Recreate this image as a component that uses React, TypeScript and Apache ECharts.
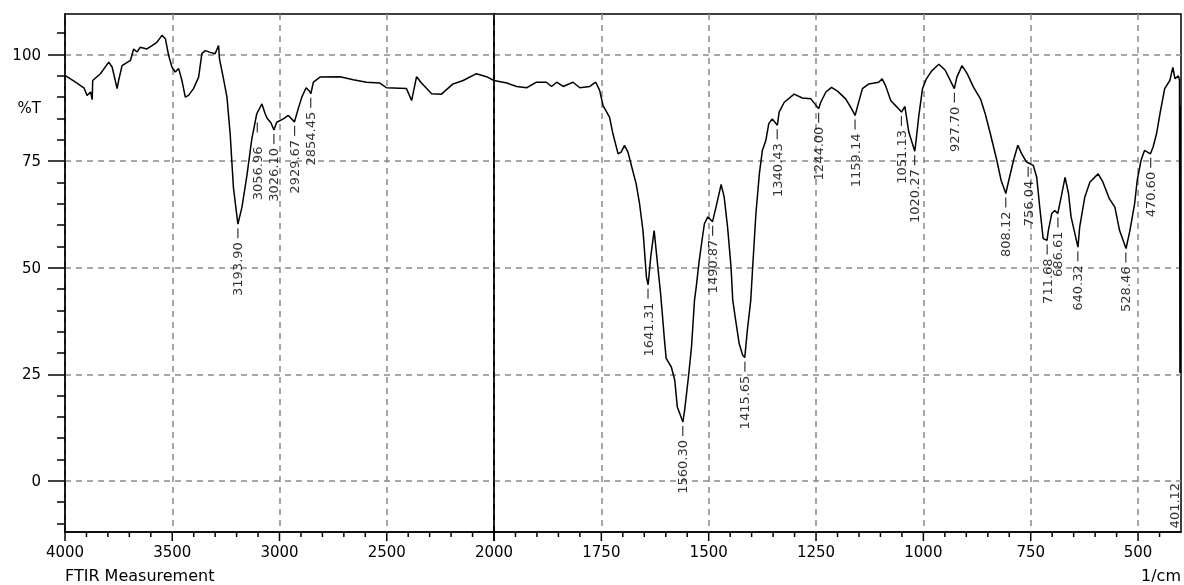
import React, { useEffect, useRef } from "react";
import * as echarts from "echarts";

// Spectrum 4000 -> 2000 1/cm  [wavenumber, %T]
const spectrumHigh: [number, number][] = [
  [4000, 95.1], [3951, 93.5], [3912, 92.2], [3897, 90.4], [3881, 91.2], [3873, 89.4], [3871, 93.9],
  [3835, 95.5], [3796, 98.2], [3780, 97.0], [3757, 92.0], [3750, 93.9], [3734, 97.4], [3695, 98.6],
  [3680, 101.3], [3664, 100.6], [3649, 101.7], [3618, 101.3], [3594, 102.1], [3571, 102.9], [3548, 104.5],
  [3532, 103.7], [3517, 99.8], [3501, 97.0], [3486, 95.9], [3470, 96.7], [3455, 93.9], [3439, 90.0],
  [3424, 90.4], [3401, 92.0], [3377, 94.7], [3362, 100.2], [3346, 100.9], [3323, 100.5], [3300, 100.2],
  [3284, 102.1], [3280, 99.0], [3261, 94.3], [3245, 90.0], [3230, 81.4], [3215, 68.9], [3194, 60.2],
  [3175, 64.2], [3152, 71.6], [3129, 80.2], [3106, 86.1], [3082, 88.4], [3067, 86.1], [3057, 85.0],
  [3040, 84.0], [3026, 82.3], [3013, 84.1], [2982, 84.9], [2959, 85.7], [2930, 84.2], [2915, 86.9],
  [2896, 90.0], [2876, 92.2], [2862, 91.5], [2854, 90.8], [2842, 93.5], [2811, 94.7], [2718, 94.8],
  [2656, 94.1], [2594, 93.5], [2532, 93.3], [2501, 92.2], [2408, 92.0], [2384, 89.2], [2361, 94.8],
  [2338, 93.3], [2291, 90.8], [2245, 90.7], [2191, 93.1], [2144, 93.9], [2082, 95.5], [2035, 94.8],
  [2000, 93.9],
];

// Spectrum 2000 -> 400 1/cm  [wavenumber, %T]
const spectrumLow: [number, number][] = [
  [2000, 93.9], [1970, 93.3], [1947, 92.5], [1924, 92.2], [1901, 93.5], [1878, 93.5], [1866, 92.5],
  [1854, 93.5], [1839, 92.5], [1816, 93.5], [1800, 92.2], [1777, 92.5], [1763, 93.5], [1754, 91.6],
  [1746, 88.0], [1731, 85.3], [1723, 81.4], [1711, 76.7], [1704, 77.1], [1696, 78.7], [1688, 77.1],
  [1677, 72.8], [1669, 69.7], [1661, 65.0], [1653, 58.7], [1645, 47.8], [1641, 46.0], [1635, 52.5],
  [1627, 58.7], [1620, 51.7], [1612, 43.9], [1608, 39.2], [1603, 33.0], [1599, 28.7], [1587, 26.7],
  [1579, 23.6], [1573, 17.3], [1560, 13.8], [1556, 16.6], [1548, 23.6], [1540, 31.4], [1533, 42.4],
  [1529, 45.5], [1522, 51.7], [1515, 56.8], [1510, 60.3], [1502, 61.9], [1491, 60.8], [1483, 64.2],
  [1471, 69.5], [1464, 66.6], [1456, 59.5], [1448, 50.2], [1444, 42.4], [1436, 36.9], [1429, 32.2],
  [1421, 29.5], [1416, 28.9], [1410, 35.3], [1402, 42.4], [1398, 49.4], [1390, 62.7], [1382, 72.0],
  [1375, 77.5], [1367, 79.8], [1360, 83.8], [1352, 84.9], [1340, 83.4], [1336, 86.5], [1324, 88.8],
  [1301, 90.7], [1282, 89.8], [1262, 89.6], [1244, 87.3], [1239, 88.8], [1227, 91.2], [1214, 92.3],
  [1200, 91.4], [1181, 89.6], [1169, 87.6], [1159, 85.7], [1154, 87.6], [1142, 92.0], [1127, 93.1],
  [1104, 93.5], [1096, 94.3], [1088, 92.7], [1076, 89.2], [1061, 87.6], [1051, 86.5], [1043, 87.8],
  [1034, 81.8], [1020, 77.3], [1017, 79.8], [1011, 85.3], [1002, 92.0], [993, 94.3], [981, 96.1],
  [964, 97.7], [949, 96.3], [928, 92.0], [922, 94.7], [910, 97.4], [898, 95.5], [883, 92.3],
  [867, 89.6], [856, 86.1], [844, 81.4], [829, 75.2], [819, 70.5], [808, 67.4], [802, 70.1],
  [790, 75.2], [780, 78.7], [771, 76.7], [760, 74.8], [756, 74.6], [744, 74.0], [736, 71.2],
  [729, 64.2], [721, 56.8], [712, 56.4], [709, 58.7], [701, 62.7], [694, 63.4], [687, 62.7],
  [679, 66.6], [670, 71.2], [662, 67.4], [656, 61.9], [640, 54.8], [636, 59.5], [624, 66.6],
  [612, 70.1], [593, 72.0], [582, 70.1], [567, 66.2], [554, 64.2], [543, 58.7], [528, 54.5],
  [519, 58.7], [508, 65.0], [502, 70.5], [493, 75.2], [485, 77.5], [471, 76.7], [465, 78.3],
  [457, 81.4], [449, 86.1], [438, 92.0], [426, 93.9], [419, 97.0], [414, 94.3], [406, 95.0],
  [403.5, 94.0], [402.5, 25.3], [401.8, 88.0], [401.3, 25.3],
];

// Peak picks [wavenumber, %T at trough]
const peaksHigh: [number, number][] = [
  [3193.9, 60.2], [3026.1, 82.3], [2929.67, 84.2], [2854.45, 90.8],
];
// Crowded pick whose label is drawn shifted to the left
const peaksHighCrowded: [number, number][] = [[3056.96, 85.0]];
const peaksLow: [number, number][] = [
  [1641.31, 46.0], [1560.3, 13.8], [1490.87, 60.8], [1415.65, 28.9], [1340.43, 83.4],
  [1244.0, 87.3], [1159.14, 85.7], [1051.13, 86.5], [1020.27, 77.3], [927.7, 92.0],
  [808.12, 67.4], [756.04, 74.6], [711.68, 56.4], [686.61, 62.7], [640.32, 54.8],
  [528.46, 54.5], [470.6, 76.7],
];
// Peak whose trough is off-scale: label anchored at the bottom
const peaksClipped: [number, number][] = [[401.12, 0]];

// Axis ticks / labels
const highTicks = [4000, 3500, 3000, 2500, 2000];
const highMinorTicks = [3900, 3800, 3700, 3600, 3400, 3300, 3200, 3100, 2900, 2800, 2700, 2600, 2400, 2300, 2200, 2100];
const lowTicks = [2000, 1750, 1500, 1250, 1000, 750, 500];
const lowMinorTicks = [
  1950, 1900, 1850, 1800, 1700, 1650, 1600, 1550, 1450, 1400, 1350, 1300,
  1200, 1150, 1100, 1050, 950, 900, 850, 800, 700, 650, 600, 550, 450,
];
const lowLabels = [1750, 1500, 1250, 1000, 750, 500];
const yTicks = [0, 25, 50, 75, 100];
const yLabelValues = [0, 25, 50, 75, 87.5, 100];
const yUnitLabel = "%T";
const xTitle = "FTIR Measurement";
const xUnit = "1/cm";

const FONT = "DejaVu Sans";
const Y_MIN = -12;
const Y_MAX = 109.5;

export default function App() {
  const ref = useRef<HTMLDivElement>(null);

  useEffect(() => {
    if (!ref.current) return;
    const chart = echarts.init(ref.current, null, { renderer: "svg" });

    const gridLine = () => ({ show: true, lineStyle: { color: "#8a8a8a", width: 1.5, type: [6, 5] as any } });
    const axisText = () => ({ fontFamily: FONT, fontSize: 15, color: "#000" });
    const bl = () => ({ color: "#000", width: 1.5 });

    const yCommon = () => ({
      type: "value",
      min: Y_MIN,
      max: Y_MAX,
      minInterval: 25,
      maxInterval: 25,
    });

    const pickLabel = () => ({
      show: true,
      position: "bottom",
      distance: 4,
      rotate: 90,
      align: "right",
      verticalAlign: "middle",
      fontFamily: FONT,
      fontSize: 13,
      color: "#000",
      formatter: (p: any) => Number(p.value[0]).toFixed(2),
    });

    const peakSeries = (data: [number, number][], xi: number) => ({
      type: "scatter",
      xAxisIndex: xi,
      yAxisIndex: xi,
      data,
      symbol: "rect",
      symbolSize: [1.2, 10],
      symbolOffset: [0, 9],
      itemStyle: { color: "#000" },
      z: 4,
      label: pickLabel(),
    });

    // x-axis tick marks drawn through the axis scale (major 9px, minor 5px)
    const tickSeries = (major: number[], minor: number[], xi: number) => ({
      type: "custom",
      xAxisIndex: xi,
      yAxisIndex: xi,
      clip: false,
      silent: true,
      z: 5,
      data: [...major.map((v) => [v, 9]), ...minor.map((v) => [v, 5])],
      renderItem: (_params: any, api: any) => {
        const p = api.coord([api.value(0), Y_MIN]);
        return {
          type: "line",
          shape: { x1: p[0], y1: p[1], x2: p[0], y2: p[1] + api.value(1) },
          style: { stroke: "#000", lineWidth: 1.5 },
        };
      },
    });

    chart.setOption({
      animation: false,
      grid: [
        { left: 65, top: 14, width: 429, height: 518, show: true, borderColor: "#000", borderWidth: 1.5, outerBoundsMode: "none" },
        { left: 494, top: 14, width: 687, height: 518, show: true, borderColor: "#000", borderWidth: 1.5, outerBoundsMode: "none" },
      ],
      xAxis: [
        {
          type: "value",
          gridIndex: 0,
          min: 2000,
          max: 4000,
          inverse: true,
          minInterval: 500,
          maxInterval: 500,
          axisLine: { show: true, onZero: false, lineStyle: bl() },
          axisTick: { show: false, customValues: highTicks },
          minorTick: { show: false },
          axisLabel: { ...axisText(), customValues: highTicks, margin: 12, formatter: (v: number) => String(v) },
          splitLine: gridLine(),
        },
        {
          type: "value",
          gridIndex: 1,
          min: 400,
          max: 2000,
          inverse: true,
          minInterval: 250,
          maxInterval: 250,
          axisLine: { show: true, onZero: false, lineStyle: bl() },
          axisTick: { show: false, customValues: lowTicks },
          minorTick: { show: false },
          axisLabel: { ...axisText(), customValues: lowLabels, margin: 12, formatter: (v: number) => String(v) },
          splitLine: gridLine(),
        },
      ],
      yAxis: [
        {
          ...yCommon(),
          gridIndex: 0,
          axisLine: { show: true, onZero: false, lineStyle: bl() },
          axisTick: { show: true, customValues: yTicks, length: 17, lineStyle: bl() },
          minorTick: { show: true, splitNumber: 5, length: 8, lineStyle: bl() },
          axisLabel: {
            ...axisText(),
            customValues: yLabelValues,
            margin: 24,
            formatter: (v: number) => (v === 87.5 ? yUnitLabel : String(v)),
          },
          splitLine: gridLine(),
        },
        {
          ...yCommon(),
          gridIndex: 1,
          axisLine: { show: true, onZero: false, lineStyle: bl() },
          axisTick: { show: false, customValues: yTicks },
          axisLabel: { show: false },
          splitLine: gridLine(),
        },
      ],
      series: [
        {
          type: "line",
          xAxisIndex: 0,
          yAxisIndex: 0,
          data: spectrumHigh,
          symbol: "none",
          lineStyle: { color: "#000", width: 1.5 },
          z: 3,
        },
        {
          type: "line",
          xAxisIndex: 1,
          yAxisIndex: 1,
          data: spectrumLow,
          symbol: "none",
          lineStyle: { color: "#000", width: 1.5 },
          z: 3,
        },
        peakSeries(peaksHigh, 0),
        {
          ...peakSeries(peaksHighCrowded, 0),
          symbolOffset: [-10, 9],
          label: { ...pickLabel(), offset: [-10, 0] },
        },
        peakSeries(peaksLow, 1),
        {
          ...peakSeries(peaksClipped, 1),
          symbolSize: [0.1, 0.1],
          symbolOffset: [0, 0],
          label: { ...pickLabel(), distance: 2, verticalAlign: "bottom" },
        },
        tickSeries(highTicks, highMinorTicks, 0),
        tickSeries(lowTicks, lowMinorTicks, 1),
      ],
      graphic: [
        {
          type: "text",
          left: 65,
          top: 567,
          style: { text: xTitle, font: `16px "${FONT}"`, fill: "#000" },
        },
        {
          type: "text",
          right: 3,
          top: 567,
          style: { text: xUnit, font: `16px "${FONT}"`, fill: "#000" },
        },
      ],
    });

    return () => chart.dispose();
  }, []);

  return (
    <div
      ref={ref}
      style={{ position: "fixed", left: 0, top: 0, width: 1184, height: 585 }}
    />
  );
}
